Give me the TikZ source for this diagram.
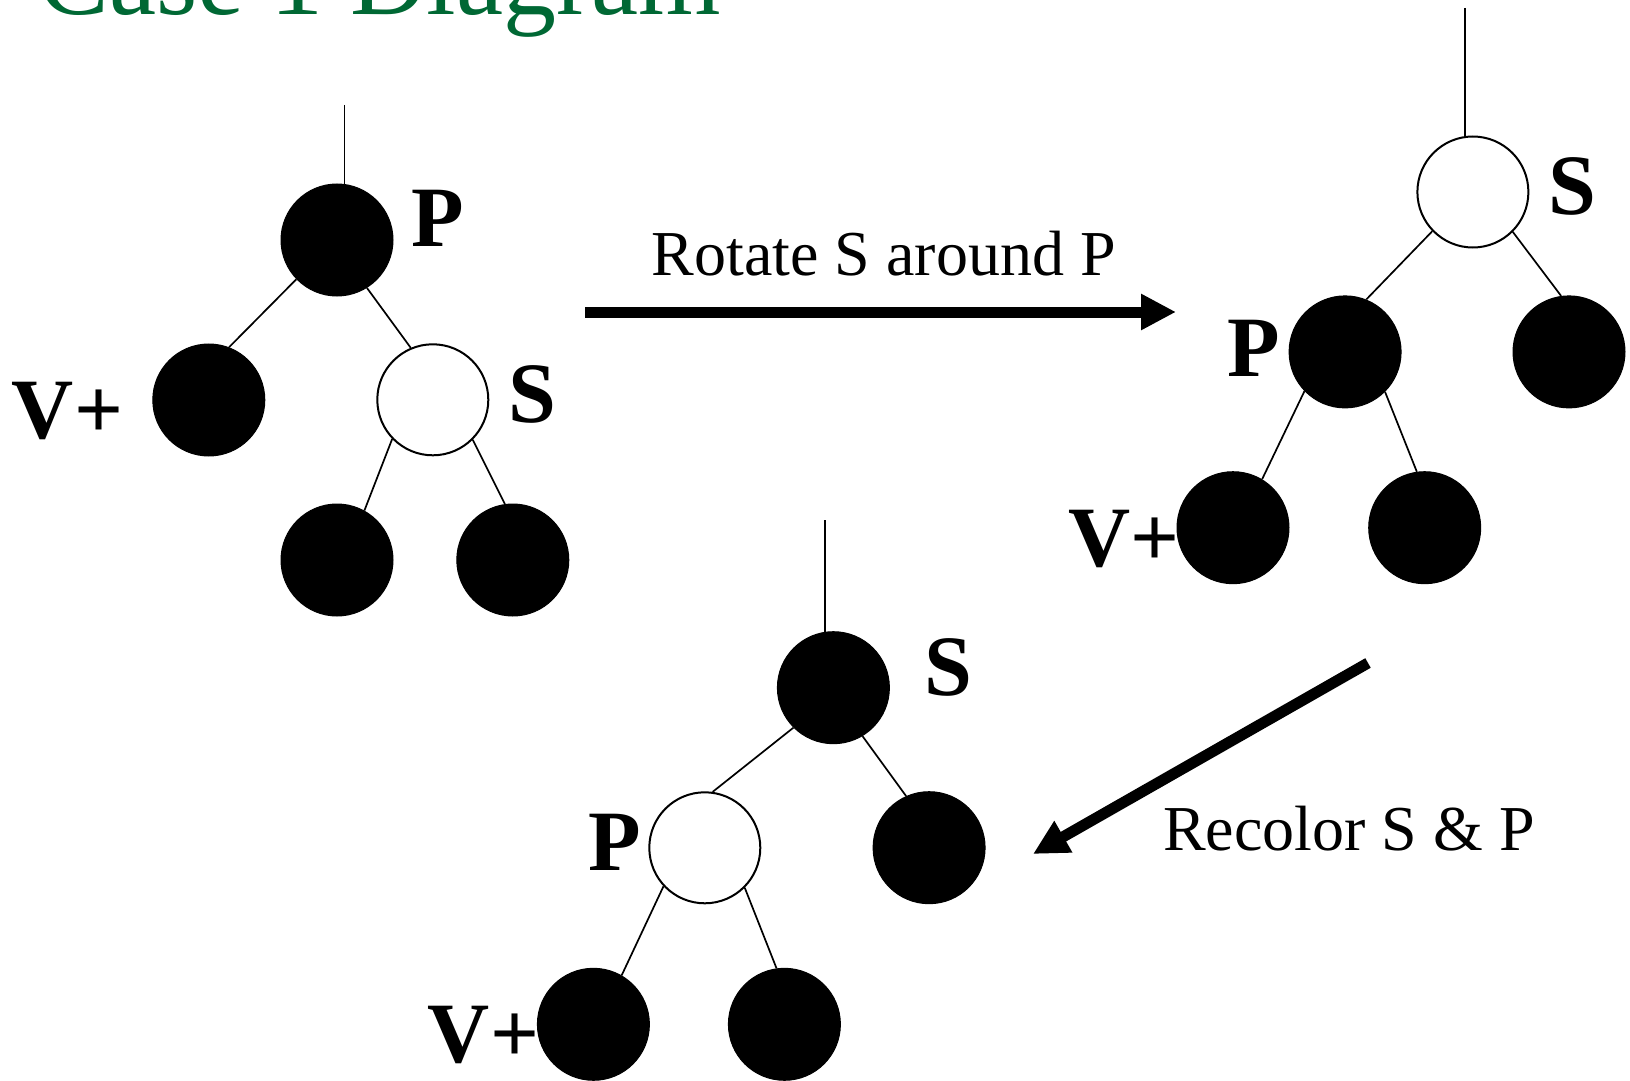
\documentclass[tikz,border=0pt]{standalone}
\usepackage{fontspec}
\setmainfont{Liberation Serif}
\usetikzlibrary{arrows.meta}
\definecolor{titlegreen}{RGB}{0,104,52}
\tikzset{
  blk/.style={circle, fill=black, draw=black, line width=0.5pt, minimum size=56pt, inner sep=0pt},
  wht/.style={circle, fill=white, draw=black, line width=1pt, minimum size=55.5pt, inner sep=0pt},
  treeedge/.style={line width=0.85pt},
  lbl/.style={inner sep=0pt, font=\fontsize{43}{43}\selectfont\bfseries},
  txt/.style={inner sep=0pt, anchor=base, font=\fontsize{32}{32}\selectfont},
  bigarrow/.style={line width=5.5pt, -{Triangle[length=17.5pt,width=17pt]}}
}
\begin{document}
\begin{tikzpicture}[x=0.5pt, y=-0.5pt]
\useasboundingbox (0,0) rectangle (1630,1081);
\clip (0,0) rectangle (1630,1081);
% title
\node[inner sep=0pt, anchor=base west, text=titlegreen, font=\fontsize{53}{53}\selectfont] (title) at (38,15) {Case 1 Diagram};
% ---------- tree 1 ----------
\node[blk] (P1) at (337,240) {};
\node[blk] (V1) at (208.8,400) {};
\node[wht] (S1) at (432.8,399.8) {};
\node[blk] (SL1) at (337,560) {};
\node[blk] (SR1) at (512.8,560) {};
\coordinate (t1) at (344.4,105);
\draw[treeedge] (t1) -- (t1 |- P1.82);
\draw[treeedge] (P1.224) -- (V1.69);
\draw[treeedge] (P1.302) -- (S1.113);
\draw[treeedge] (S1.224) -- (SL1.61);
\draw[treeedge] (S1.315) -- (SR1.98);
\node[lbl] (lP1) at (437.7,218.6) {P};
\node[lbl] (lV1) at (67.5,411) {V+};
\node[lbl] (lS1) at (532,394.4) {S};
% arrow 1
\coordinate (a1s) at (585,312);
\coordinate (a1e) at (1176,312);
\draw[bigarrow] (a1s) -- (a1e);
\node[txt] (rot) at (883.6,275.5) {Rotate S around P};
% ---------- tree 2 ----------
\node[wht] (S2) at (1472.9,192) {};
\node[blk] (P2) at (1345.1,351.9) {};
\node[blk] (SR2) at (1569,351.9) {};
\node[blk] (V2) at (1233,527.7) {};
\node[blk] (PR2) at (1424.7,527.7) {};
\coordinate (t2) at (1464.8,8);
\draw[treeedge] (t2) -- (t2 |- S2.98);
\draw[treeedge] (S2.224.5) -- (P2.68);
\draw[treeedge] (S2.315) -- (SR2.98.5);
\draw[treeedge] (P2.224.6) -- (V2.59.5);
\draw[treeedge] (P2.315) -- (PR2.98);
\node[lbl] (lS2) at (1572.5,186.6) {S};
\node[lbl] (lP2) at (1253.5,347.9) {P};
\node[lbl] (lV2) at (1124,538.7) {V+};
% arrow 2
\coordinate (a2s) at (1368,663);
\coordinate (a2e) at (1033,854);
\draw[bigarrow] (a2s) -- (a2e);
\node[txt] (rec) at (1349,850) {Recolor S \& P};
% ---------- tree 3 ----------
\node[blk] (S3) at (833.4,687.7) {};
\node[wht] (P3) at (704.8,847.8) {};
\node[blk] (SR3) at (929.1,847.7) {};
\node[blk] (V3) at (593.4,1024.3) {};
\node[blk] (PR3) at (784.4,1024.3) {};
\coordinate (t3) at (825.2,520.4);
\draw[treeedge] (t3) -- (t3 |- S3.98);
\draw[treeedge] (S3.225) -- (P3.82);
\draw[treeedge] (S3.301) -- (SR3.114);
\draw[treeedge] (P3.223.4) -- (V3.60);
\draw[treeedge] (P3.315) -- (PR3.98);
\node[lbl] (lS3) at (948,667) {S};
\node[lbl] (lP3) at (614.5,842.7) {P};
\node[lbl] (lV3) at (483.5,1035) {V+};
\end{tikzpicture}
\end{document}
